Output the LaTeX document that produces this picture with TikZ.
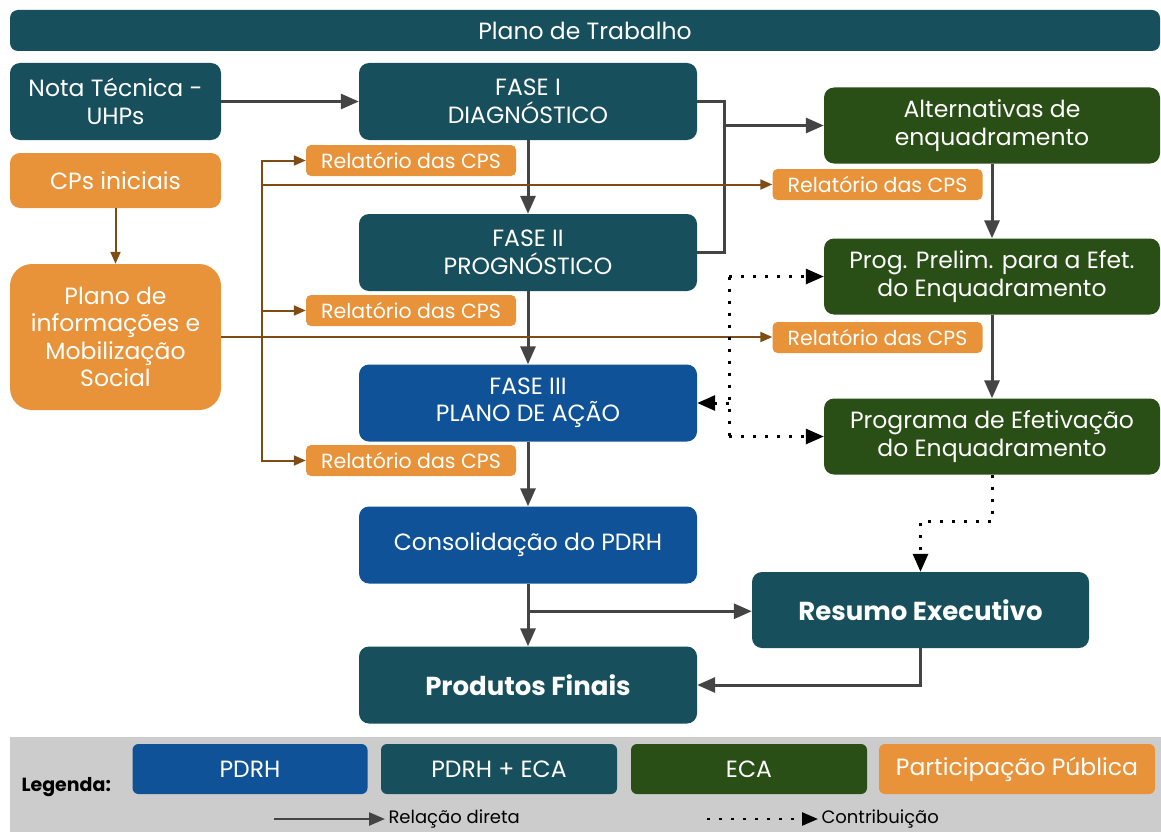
\documentclass[tikz,border=0pt]{standalone}
\usepackage{fontspec}
\setmainfont{Poppins}
\usetikzlibrary{arrows.meta,calc}
\definecolor{cteal}{HTML}{174F5C}
\definecolor{cblue}{HTML}{0F5297}
\definecolor{cgreen}{HTML}{294E16}
\definecolor{corange}{HTML}{E8933A}
\definecolor{cbrown}{HTML}{7E4C14}
\definecolor{cgray}{HTML}{444444}
\definecolor{clegbg}{HTML}{CCCCCC}
\begin{document}
\begin{tikzpicture}[x=1pt,y=-1pt,
  box/.style={rounded corners=10pt, text=white, align=center, inner sep=0pt,
    font=\fontsize{23.5}{27.5}\selectfont},
  tealbox/.style={box, fill=cteal},
  bluebox/.style={box, fill=cblue},
  greenbox/.style={box, fill=cgreen},
  orangebox/.style={box, fill=corange},
  relbox/.style={box, fill=corange, rounded corners=5pt, minimum width=210pt, minimum height=31pt,
    font=\fontsize{20.5}{22}\selectfont},
  bigbox/.style={minimum width=338pt, minimum height=77pt},
  rightbox/.style={minimum width=336pt, minimum height=76pt},
  garr/.style={draw=cgray, line width=3pt, -{Triangle[length=18pt,width=15pt]}},
  gline/.style={draw=cgray, line width=3pt},
  barr/.style={draw=cbrown, line width=2pt, -{Triangle[length=12pt,width=10pt]}},
  bline/.style={draw=cbrown, line width=2pt},
  dline/.style={draw=black, line width=3pt, dash pattern=on 3pt off 9pt},
  darr/.style={dline, -{Triangle[length=18pt,width=15pt]}},
]
\useasboundingbox (0,0) rectangle (1161,832);

% title
\node[tealbox, minimum width=1150pt, minimum height=41pt, rounded corners=8pt,
  font=\fontsize{23.5}{26}\selectfont] (title) at (585,30.5) {Plano de Trabalho};

% left column
\node[tealbox, minimum width=211pt, minimum height=77pt] (nota) at (115.5,101.5) {Nota Técnica -\\UHPs};
\node[orangebox, minimum width=211pt, minimum height=55pt] (cps) at (115.5,180.5) {CPs iniciais};
\node[orangebox, minimum width=211pt, minimum height=146pt, rounded corners=22pt] (plano) at (115.5,337) {Plano de\\informações e\\Mobilização\\Social};

% center column
\node[tealbox, bigbox] (f1) at (528,101.5) {FASE I\\DIAGNÓSTICO};
\node[relbox] (r1) at (411,160.5) {Relatório das CPS};
\node[tealbox, bigbox] (f2) at (528,252.5) {FASE II\\PROGNÓSTICO};
\node[relbox] (r2) at (411,310.5) {Relatório das CPS};
\node[bluebox, bigbox] (f3) at (528,403) {FASE III\\PLANO DE AÇÃO};
\node[relbox] (r3) at (411,460.5) {Relatório das CPS};
\node[bluebox, bigbox] (cons) at (528,545) {Consolidação do PDRH};
\node[tealbox, bigbox, font=\fontsize{26}{30}\selectfont\bfseries] (prod) at (528,685) {Produtos Finais};
\node[tealbox, minimum width=337pt, minimum height=76pt, font=\fontsize{26}{30}\selectfont\bfseries] (res) at (920.5,610) {Resumo Executivo};

% right column
\node[greenbox, rightbox] (alt) at (992,125.5) {Alternativas de\\enquadramento};
\node[relbox] (r4) at (877.5,184.5) {Relatório das CPS};
\node[greenbox, rightbox] (pp) at (992,276.5) {Prog. Prelim. para a Efet.\\do Enquadramento};
\node[relbox] (r5) at (877.5,337.5) {Relatório das CPS};
\node[greenbox, rightbox] (pe) at (992,436.5) {Programa de Efetivação\\do Enquadramento};

% connectors: gray
\draw[garr] (nota.east) -- (f1.west);
\draw[garr] (f1.south) -- (f2.north);
\draw[garr] (f2.south) -- (f3.north);
\draw[garr] (f3.south) -- (cons.north);
\draw[garr] (cons.south) -- (prod.north);
\coordinate (cb) at ($(cons.south)!0.44!(prod.north)$);
\draw[garr] (cb) -- (cb -| res.west);
\draw[garr] (res.south) |- (prod.east);
\coordinate (jx) at (724,0);
\draw[gline] (f1.east) -| (jx |- f2.east) -- (f2.east);
\draw[garr] (jx |- alt.west) -- (alt.west);
\draw[garr] (alt.south) -- (pp.north);
\draw[garr] (pp.south) -- (pe.north);

% connectors: brown
\draw[barr] (cps.south) -- (plano.north);
\coordinate (tk) at (262,337);
\draw[barr] (plano.east) -- (plano.east -| r5.west);
\draw[barr] (tk) |- (r1.west);
\draw[barr] (tk) |- (r2.west);
\draw[barr] (tk) |- (r3.west);
\draw[barr] (tk |- r4.west) -- (r4.west);

% dotted contributions
\coordinate (dx) at (729,0);
\draw[dline] (dx |- pp.west) -- (dx |- pe.west);
\draw[darr] (dx |- pp.west) -- (pp.west);
\draw[darr] (dx |- pe.west) -- (pe.west);
\draw[darr] (dx |- f3.east) -- (f3.east);
\draw[darr] (pe.south) -- ++(0,47) -| (res.north);

% legend
\fill[clegbg] (10,737) rectangle (1161,832);
\node[font=\fontsize{19}{21}\selectfont\bfseries, anchor=west] (leg) at (18,787) {Legenda:};
\node[bluebox, minimum width=235pt, minimum height=50pt, rounded corners=6pt] (lg1) at (250,769) {PDRH};
\node[tealbox, minimum width=236pt, minimum height=50pt, rounded corners=6pt] (lg2) at (499,769) {PDRH + ECA};
\node[greenbox, minimum width=236pt, minimum height=50pt, rounded corners=6pt] (lg3) at (749,769) {ECA};
\node[orangebox, minimum width=276pt, minimum height=50pt, rounded corners=6pt] (lg4) at (1017,769) {Participação Pública};
\coordinate (la1) at (274,819);
\node[anchor=west, font=\fontsize{18}{20}\selectfont] (lt1) at (385,819) {Relação direta};
\draw[garr, line width=2.5pt, -{Triangle[length=16pt,width=13pt]}] (la1) -- (lt1.west);
\coordinate (la2) at (707,819);
\node[anchor=west, font=\fontsize{18}{20}\selectfont] (lt2) at (818,819) {Contribuição};
\draw[dline, line width=2.5pt, -{Triangle[length=16pt,width=13pt]}] (la2) -- (lt2.west);
\end{tikzpicture}
\end{document}
